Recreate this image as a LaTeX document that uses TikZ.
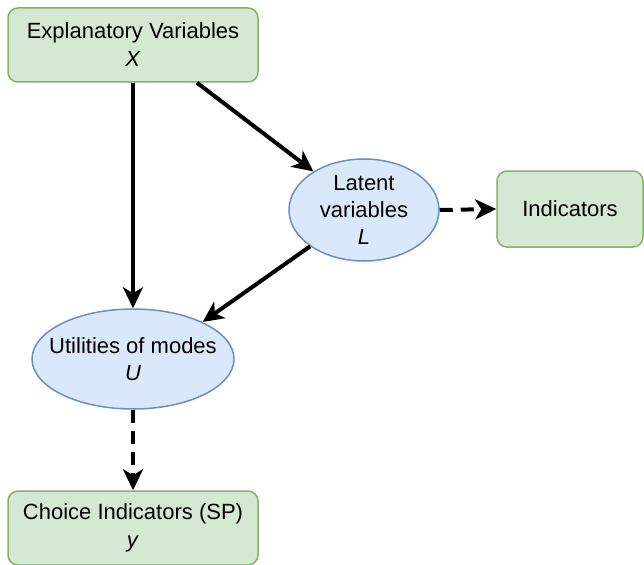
\documentclass[tikz,border=0pt]{standalone}
\usepackage{fontspec}
\setmainfont{Liberation Sans}
\usetikzlibrary{arrows.meta,shapes.geometric}
\definecolor{gfill}{HTML}{D5E8D4}
\definecolor{gline}{HTML}{82B366}
\definecolor{bfill}{HTML}{DAE8FC}
\definecolor{bline}{HTML}{6C8EBF}
\tikzset{
  gbox/.style={draw=gline, fill=gfill, line width=1.5pt, rounded corners=10pt, inner sep=0pt, align=center, font=\fontsize{22}{28}\selectfont},
  bell/.style={ellipse, draw=bline, fill=bfill, line width=1.5pt, inner sep=0pt},
  btext/.style={inner sep=0pt, align=center, font=\fontsize{22}{27}\selectfont},
  conn/.style={line width=4pt, -{Stealth[length=21pt,width=20pt,inset=6pt]}},
  dconn/.style={conn, dash pattern=on 13pt off 8pt},
}
\begin{document}
\begin{tikzpicture}[x=1pt,y=-1pt]
\useasboundingbox (0,0) rectangle (644,564);
\node[gbox, minimum width=250pt, minimum height=74pt] (X) at (133,45) {Explanatory Variables\\\textit{X}};
\node[bell, minimum width=150pt, minimum height=102pt] (L) at (364,210) {};
\node[btext] (Lt) at (L.center) {Latent\\variables\\\textit{L}};
\node[gbox, minimum width=146pt, minimum height=76pt] (I) at (570,209) {Indicators};
\node[bell, minimum width=202pt, minimum height=100pt] (U) at (133,359) {};
\node[btext] (Ut) at (U.center) {Utilities of modes\\\textit{U}};
\node[gbox, minimum width=250pt, minimum height=74pt] (C) at (133,528) {Choice Indicators (SP)\\\textit{y}};
\draw[conn] (X.south) -- (U.north);
\draw[conn] ([xshift=64pt]X.south) -- (L);
\draw[conn] (L.214) -- (U.28);
\draw[dconn] (L.east) -- (I.west);
\draw[dconn] (U.south) -- (C.north);
\end{tikzpicture}
\end{document}
